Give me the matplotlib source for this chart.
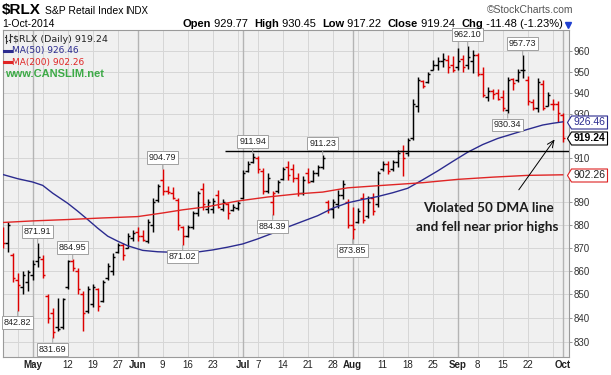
import numpy as np
import pandas as pd
import matplotlib
matplotlib.use('Agg')
import matplotlib.pyplot as plt
from matplotlib.collections import LineCollection
from matplotlib.lines import Line2D
from matplotlib.path import Path
from matplotlib.ticker import FixedLocator, FixedFormatter, NullLocator

# ---------------- data ----------------
holidays = ['2014-05-26', '2014-07-04', '2014-09-01']
dates = pd.bdate_range('2014-04-23', '2014-10-01', freq='C', holidays=holidays)

opens = [878, 872, 867, 856, 853, 855, 858, 864, 865, 849, 842, 836, 836, 853, 864, 860, 850, 843, 846, 852,
         847, 857, 860, 868, 871, 870, 874, 877, 875, 873, 880, 891, 900, 895, 894, 891, 879, 875, 879, 885,
         896, 887, 887, 893, 887, 889, 886.5, 887.5, 892, 904, 908, 910, 904, 895, 890, 895, 900.5, 906, 905, 901,
         894, 903, 899.5, 903, 906, 890, 887, 889, 893, 890, 880, 881, 892, 884, 892, 889, 905, 907, 905, 908,
         913, 912, 919, 934, 945.5, 945, 951, 953, 955, 955.5, 953, 952, 956, 953, 955, 958, 949, 938, 941, 940,
         938, 932, 946.5, 946, 951, 946, 935.5, 933, 944, 934, 935, 935, 929.77]
highs = [879, 881, 867.7, 859, 860, 860.5, 864.6, 871.91, 867, 850, 844, 848.5, 848.5, 864.7, 864.95, 861, 851.2, 853.5, 854.2, 852.8,
         856, 863.5, 867.8, 871.9, 872, 876.4, 877.9, 879, 877.9, 882.6, 892, 898, 904.79, 897.4, 896.7, 892, 879.4, 880, 886, 895,
         898.5, 891.2, 891.9, 895.6, 891.2, 889.8, 889, 890.5, 904.6, 908.5, 911.94, 911, 905.3, 903, 895, 900, 906, 908.3, 907, 903,
         901.6, 905.3, 904.5, 906.9, 911.23, 891, 891.2, 895.6, 900, 891.2, 888, 887.4, 894, 892.7, 894, 904, 908.5, 908.5, 909, 913.6,
         915.9, 919, 936.9, 947.4, 946.1, 950, 955.5, 957.1, 958.7, 957.9, 957.5, 961.2, 958, 962.10, 960.3, 959, 952, 942.6, 942, 942,
         941.3, 947.4, 947, 951.5, 957.73, 948, 937, 946.8, 946.1, 940.5, 936.9, 936.3, 930.45]
lows = [870, 868, 855.3, 842.82, 850, 851.5, 856, 861.5, 857, 838, 831.69, 834.5, 835.3, 852, 860, 850, 834.5, 842.2, 844.7, 842.8,
        846.8, 856, 858, 867.8, 864.6, 869.8, 872.8, 873, 872.8, 872, 877, 890, 893.4, 893.7, 891.2, 877.9, 871.02, 874.5, 878, 884,
        886.7, 885.4, 885, 887.4, 886, 882.7, 886, 886.7, 891.2, 903.3, 907.7, 903, 893.5, 894, 884.39, 894, 900, 900, 899, 892.8,
        893.4, 898.5, 898.8, 901.6, 905, 885.4, 883, 887.4, 891.2, 878.6, 873.85, 880.9, 880.9, 883, 884.5, 888, 904, 902.5, 904, 906,
        901.6, 911, 918.2, 931.2, 942.2, 944.6, 950.8, 950.8, 952.3, 949.2, 950, 950.8, 950, 951.5, 949.2, 948, 938, 936.3, 937, 936.5,
        931.5, 930.34, 941.5, 945, 947, 934.3, 932, 931.2, 932, 933.7, 932, 926.5, 917.22]
closes = [872, 880, 857, 854, 858, 859.5, 863, 866, 858, 840, 834, 835.5, 848, 864, 861, 852, 842, 852, 853, 845,
          855, 862, 866, 871, 867, 875, 876.5, 875, 873.5, 881, 890, 897, 895, 894.5, 892, 880, 875, 879, 885, 894,
          889, 890, 890.5, 888, 890, 885, 888, 889.5, 903, 907, 910.5, 905, 895, 901, 894, 899, 905, 902, 901, 894,
          900, 899, 903, 906, 910, 887, 890, 893, 898, 880, 878, 886, 882, 890, 886, 903, 907, 904, 908, 912,
          910, 918, 935, 946, 943, 949, 953, 955, 956, 952, 951, 955, 952, 957, 958, 949, 939, 941, 939.5, 937,
          933, 946, 944.5, 950, 951, 936, 933, 945, 933, 939, 935, 930.72, 919.24]

# moving averages at sample bars (bar position, value)
ma50_pos = [0, 3, 6, 8, 10, 13, 15, 17, 19, 21, 23, 25, 28, 31, 35, 39, 42, 45, 48, 51, 54, 57, 60, 63, 66,
            69, 72, 75, 78, 81, 84, 87, 90, 93, 96, 99, 102, 105, 108, 110, 112]
ma50_val = [902.4, 900.5, 899, 897.5, 894, 889.5, 886, 882.3, 878.5, 875, 872.8, 870.8, 868.8, 868.2, 867.9,
            868.1, 869, 870.2, 871.6, 873.8, 876.3, 879, 881.5, 884, 887.3, 889.7, 891.2, 892.5, 894.2, 896.2,
            900, 904, 908.3, 912.5, 916, 918.8, 920.9, 923, 925, 925.8, 926.46]
ma200_pos = [0, 6, 13, 20, 27, 32, 36, 41, 47, 53, 59, 64, 69, 76, 84, 91, 98, 105, 112]
ma200_val = [881, 881.7, 882.3, 883, 883.6, 885.2, 886.6, 888, 890.5, 892.3, 893.7, 894.5, 896.4, 897.5,
             898.7, 900.2, 901.2, 902, 902.26]

resistance_level = 913.0
resistance_start = 44.5

y_ticks = [830, 840, 850, 860, 870, 880, 890, 900, 910, 920, 930, 940, 950, 960]
y_tick_labels = ['830', '840', '850', '860', '870', '880', '890', '', '910', '', '930', '940', '950', '960']
tick_dates = ['2014-05-01', '2014-05-12', '2014-05-19', '2014-05-27', '2014-06-02', '2014-06-09', '2014-06-16',
              '2014-06-23', '2014-07-01', '2014-07-07', '2014-07-14', '2014-07-21', '2014-07-28', '2014-08-01',
              '2014-08-11', '2014-08-18', '2014-08-25', '2014-09-02', '2014-09-08', '2014-09-15', '2014-09-22',
              '2014-10-01']
tick_labels = ['May', '12', '19', '27', 'Jun', '9', '16', '23', 'Jul', '7', '14', '21', '28', 'Aug',
               '11', '18', '25', 'Sep', '8', '15', '22', 'Oct']
extra_grid_dates = ['2014-04-28', '2014-05-05', '2014-06-30', '2014-08-04', '2014-09-29']
month_dates = ['2014-05-01', '2014-06-02', '2014-07-01', '2014-08-01', '2014-09-02', '2014-10-01']

high_label_pos = [7, 14, 32, 50, 64, 93, 104]
low_label_pos = [3, 10, 36, 54, 70, 101]

# ---------------- figure ----------------
W, H, DPI = 611, 375, 100
fig = plt.figure(figsize=(W / DPI, H / DPI), dpi=DPI)
fig.patch.set_facecolor('white')
SANS = 'Liberation Sans'

L, R, T, B = 3, 569, 30, 357
ax = fig.add_axes([L / W, 1 - B / H, (R - L) / W, (B - T) / H])
ax.set_facecolor('#f0f0f0')
ax.set_yscale('log')
ax.set_xlim(0.06, 113.26)
ax.set_ylim(823.7, 970.0)

def pos_of(d):
    return dates.get_loc(pd.Timestamp(d))

# grid
for yv in y_ticks:
    ax.axhline(yv, color='#d6d6d6', lw=0.7, zorder=0.5)
for d in tick_dates + extra_grid_dates:
    ax.axvline(pos_of(d), color='#d6d6d6', lw=0.7, zorder=0.5)
for d in month_dates:
    ax.axvline(pos_of(d), color='#b4b4b4', lw=1.0, zorder=0.6)

# OHLC bars
x = np.arange(len(dates))
segs, cols = [], []
for k in range(len(dates)):
    prev = closes[k - 1] if k > 0 else opens[k]
    c = '#000000' if closes[k] > prev else '#dd0000'
    segs += [[(x[k], lows[k]), (x[k], highs[k])],
             [(x[k] - 0.45, opens[k]), (x[k], opens[k])],
             [(x[k], closes[k]), (x[k] + 0.45, closes[k])]]
    cols += [c, c, c]
ax.add_collection(LineCollection(segs, colors=cols, linewidths=1.05, zorder=3, capstyle='butt'))

# moving averages
ax.plot(ma50_pos, ma50_val, color='#2b2b8f', lw=1.0, zorder=4)
ax.plot(ma200_pos, ma200_val, color='#e02525', lw=1.0, zorder=4)

# resistance line
ax.hlines(resistance_level, resistance_start, 114, color='black', lw=1.0, zorder=4)

# axes styling
for s in ax.spines.values():
    s.set_color('#9a9a9a')
    s.set_linewidth(0.8)
ax.yaxis.tick_right()
ax.yaxis.set_major_locator(FixedLocator(y_ticks))
ax.yaxis.set_major_formatter(FixedFormatter(y_tick_labels))
ax.yaxis.set_minor_locator(NullLocator())
ax.tick_params(axis='y', length=2, width=0.6, color='#888888', labelsize=7, pad=1.5, labelcolor='#333333')
for lab in ax.get_yticklabels():
    lab.set_fontfamily(SANS)
ax.set_xticks([pos_of(d) for d in tick_dates])
ax.set_xticklabels(tick_labels)
ax.tick_params(axis='x', length=0, labelsize=7, pad=2.5, labelcolor='#222222')
months = {'May', 'Jun', 'Jul', 'Aug', 'Sep', 'Oct'}
for lab in ax.get_xticklabels():
    lab.set_fontfamily(SANS)
    if lab.get_text() in months:
        lab.set_fontweight('bold')

# high / low callouts
box = dict(boxstyle='square,pad=0.22', fc='white', ec='#a0a0a0', lw=0.7)
arr = dict(arrowstyle='-', color='#a0a0a0', lw=0.7, shrinkA=0, shrinkB=0)
for p in high_label_pos:
    ax.annotate('%.2f' % highs[p], xy=(p, highs[p]), xytext=(0, 11.5), textcoords='offset pixels',
                ha='center', va='center', fontsize=6.5, family=SANS, color='#222222', bbox=box,
                arrowprops=arr, zorder=6, annotation_clip=False)
for p in low_label_pos:
    ax.annotate('%.2f' % lows[p], xy=(p, lows[p]), xytext=(0, -11.5), textcoords='offset pixels',
                ha='center', va='center', fontsize=6.5, family=SANS, color='#222222', bbox=box,
                arrowprops=arr, zorder=6, annotation_clip=False)

# right-side value tags
tag = Path([(0, 0), (4, 6.5), (40, 6.5), (40, -6.5), (4, -6.5), (0, 0)],
           [Path.MOVETO, Path.LINETO, Path.LINETO, Path.LINETO, Path.LINETO, Path.CLOSEPOLY])
tip = (567 - L) / (R - L)
ytr = ax.get_yaxis_transform()
for val, ec, tc, wt in [(ma50_val[-1], '#2b2b8f', '#2b2b8f', 'normal'),
                        (closes[-1], '#000000', '#000000', 'bold'),
                        (ma200_val[-1], '#dd2222', '#222222', 'normal')]:
    ax.plot([tip], [val], transform=ytr, marker=tag, markersize=57.6, mfc='white', mec=ec, mew=0.8,
            clip_on=False, zorder=10, ls='none')
    ax.annotate('%.2f' % val, xy=(tip, val), xycoords=ytr, xytext=(22, 0), textcoords='offset pixels',
                ha='center', va='center', fontsize=7.5, family=SANS, color=tc, fontweight=wt,
                zorder=11, annotation_clip=False)

# annotation text and arrow
ax.annotate('', xy=(110.7, 919.4), xytext=(102.9, 894.5),
            arrowprops=dict(arrowstyle='->,head_length=0.5,head_width=0.22', color='black', lw=0.7), zorder=5)
ax.text(97.06, 887.3, 'Violated 50 DMA line', ha='center', va='center', fontsize=9.7,
        family='Lato', fontweight='bold', color='#1c1c1c', zorder=5)
ax.text(96.86, 879.1, 'and fell near prior highs', ha='center', va='center', fontsize=9.7,
        family='Lato', fontweight='bold', color='#1c1c1c', zorder=5)

# ---------------- header & legend ----------------
def ftext(xp, yp, s, **kw):
    kw.setdefault('va', 'center')
    return fig.text(xp / W, 1 - yp / H, s, **kw)

ftext(2, 10, r'\$RLX', fontsize=11, fontweight='bold', family=SANS)
ftext(45, 10.5, 'S&P Retail Index', fontsize=7.5, family=SANS)
ftext(125, 10.5, 'INDX', fontsize=7, family=SANS)
ftext(573, 10, '\u00a9StockCharts.com', ha='right', fontsize=7.5, family=SANS, color='#555555')
ftext(2, 24, '1-Oct-2014', fontsize=7.5, family=SANS)

chg = closes[-1] - closes[-2]
pct = chg / closes[-2] * 100
pieces = [('Open', 'bold'), (' %.2f  ' % opens[-1], 'normal'), ('High', 'bold'), (' %.2f  ' % highs[-1], 'normal'),
          ('Low', 'bold'), (' %.2f  ' % lows[-1], 'normal'), ('Close', 'bold'), (' %.2f  ' % closes[-1], 'normal'),
          ('Chg', 'bold'), (' %.2f (%.2f%%)' % (chg, pct), 'normal')]
renderer = fig.canvas.get_renderer()
texts = []
xcur = 0
for s, wt in pieces:
    t = ftext(xcur, 24, s, fontsize=8, family=SANS, fontweight=wt)
    texts.append((t, xcur))
    xcur += t.get_window_extent(renderer).width
shift = 563 - xcur
for t, x0 in texts:
    t.set_x((x0 + shift) / W)
fig.add_artist(Line2D([568 / W], [1 - 24.5 / H], marker='v', color='#2040d0', ms=4.5, ls='none',
                      transform=fig.transFigure))

# legend inside plot
def fline(xs, ys, **kw):
    fig.add_artist(Line2D([v / W for v in xs], [1 - v / H for v in ys], transform=fig.transFigure, **kw))

fline([6, 6], [35, 43], color='#333333', lw=0.8)
fline([4.5, 6], [37, 37], color='#333333', lw=0.8)
fline([6, 7.5], [41, 41], color='#333333', lw=0.8)
fline([10, 10], [34, 42], color='#333333', lw=0.8)
fline([8.5, 10], [40, 40], color='#333333', lw=0.8)
fline([10, 11.5], [36, 36], color='#333333', lw=0.8)
ftext(13, 39, r'\$RLX (Daily) %.2f' % closes[-1], fontsize=6.8, family='DejaVu Sans', color='#222222')
fline([4, 11], [51, 51], color='#2b2b8f', lw=2.2)
ftext(12, 51, 'MA(50) %.2f' % ma50_val[-1], fontsize=6.5, family='DejaVu Sans', color='#2b2b8f')
fline([4, 11], [62, 62], color='#e02525', lw=2.2)
ftext(12, 62, 'MA(200) %.2f' % ma200_val[-1], fontsize=6.5, family='DejaVu Sans', color='#e02525')
ftext(5, 74, 'www.CANSLIM.net', fontsize=8, fontweight='bold', family=SANS, color='#3daa47')

fig.savefig('out.png', dpi=DPI)
